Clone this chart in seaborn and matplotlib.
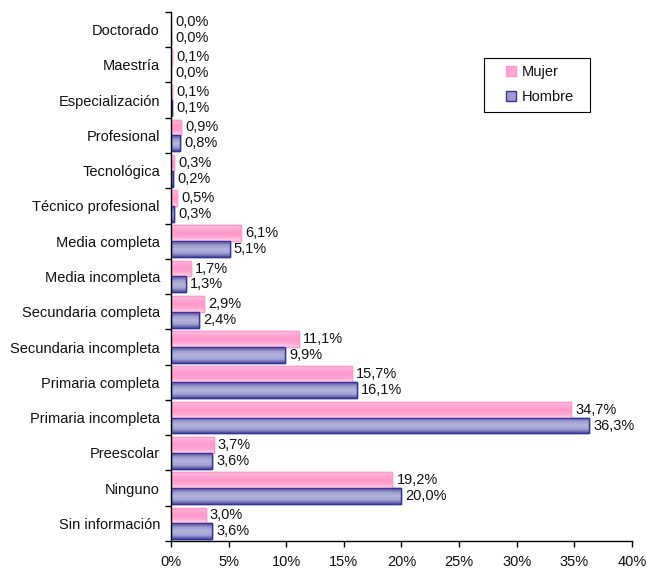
#!/usr/bin/env python3
"""Distribución por nivel educativo y sexo (barras horizontales)."""

import matplotlib
matplotlib.use("Agg")
import matplotlib.pyplot as plt
import numpy as np
import pandas as pd
import seaborn as sns
from matplotlib.colors import LinearSegmentedColormap
from matplotlib.patches import Rectangle
from matplotlib.ticker import FixedLocator, FuncFormatter

niveles = [
    "Doctorado", "Maestría", "Especialización", "Profesional", "Tecnológica",
    "Técnico profesional", "Media completa", "Media incompleta",
    "Secundaria completa", "Secundaria incompleta", "Primaria completa",
    "Primaria incompleta", "Preescolar", "Ninguno", "Sin información",
]
mujer = [0.0, 0.1, 0.1, 0.9, 0.3, 0.5, 6.1, 1.7, 2.9, 11.1, 15.7, 34.7, 3.7, 19.2, 3.0]
hombre = [0.0, 0.0, 0.1, 0.8, 0.2, 0.3, 5.1, 1.3, 2.4, 9.9, 16.1, 36.3, 3.6, 20.0, 3.6]
series = ["Mujer", "Hombre"]
x_ticks = [0, 5, 10, 15, 20, 25, 30, 35, 40]

df = pd.DataFrame({
    "nivel": niveles * 2,
    "pct": mujer + hombre,
    "sexo": ["Mujer"] * len(niveles) + ["Hombre"] * len(niveles),
})

sns.set_theme(style="white")
plt.rcParams["font.family"] = ["Liberation Sans", "DejaVu Sans"]
plt.rcParams["text.color"] = "#111111"
FS = 10.5

fig = plt.figure(figsize=(6.46, 5.68), dpi=100)
ax = fig.add_axes([0.2647, 0.0475, 0.7136, 0.9315])

colores = {"Mujer": "#FFA8D4", "Hombre": "#9C9CCF"}
bordes = {"Mujer": "#FF99CC", "Hombre": "#333399"}
# degradado vertical (arriba -> abajo) parecido al de Excel
degradados = {
    "Mujer": LinearSegmentedColormap.from_list(
        "m", ["#FFD2E8", "#FFA6D2", "#FF99CC", "#FFA6D2", "#FFC4E2"]),
    "Hombre": LinearSegmentedColormap.from_list(
        "h", ["#5050A0", "#A4A4D4", "#B4B4DC", "#9C9CCC", "#44449A"]),
}

sns.barplot(
    data=df, y="nivel", x="pct", hue="sexo", hue_order=series,
    order=niveles, palette=colores, width=0.9, orient="h", ax=ax,
    saturation=1, legend=True,
)

grad = np.linspace(0, 1, 64).reshape(-1, 1)
for cont, nombre in zip(ax.containers, series):
    for bar in cont:
        bar.set_edgecolor(bordes[nombre])
        bar.set_linewidth(1.0)
        x0, y0 = bar.get_x(), bar.get_y()
        w, h = bar.get_width(), bar.get_height()
        if w <= 0:
            continue
        img = ax.imshow(grad, cmap=degradados[nombre], aspect="auto",
                        extent=(x0, x0 + w, y0, y0 + h), origin="upper",
                        zorder=bar.get_zorder() + 0.1, interpolation="bilinear")
        img.set_clip_path(bar)
        # borde encima del degradado
        ax.add_patch(Rectangle((x0, y0), w, h, facecolor="none",
                               edgecolor=bordes[nombre], linewidth=1.0,
                               zorder=bar.get_zorder() + 0.2))
    ax.bar_label(
        cont,
        labels=[f"{v:.1f}%".replace(".", ",") for v in cont.datavalues],
        padding=3, fontsize=FS, color="#111111",
    )

ax.set_xlim(0, 40)
ax.set_ylim(len(niveles) - 0.5, -0.5)
ax.set_xticks(x_ticks)
ax.xaxis.set_major_formatter(FuncFormatter(lambda v, _: f"{v:.0f}%"))
ax.set_xlabel("")
ax.set_ylabel("")

# ticks del eje y en los límites entre categorías
ax.yaxis.set_minor_locator(FixedLocator(np.arange(-0.5, len(niveles), 1.0)))
ax.tick_params(axis="y", which="major", length=0, labelsize=FS, pad=8, colors="#111111")
ax.tick_params(axis="y", which="minor", length=4, width=1, color="black", left=True)
ax.tick_params(axis="x", which="major", length=4, width=1, bottom=True,
               labelsize=FS, pad=6, labelcolor="#111111", color="black")

for s in ["top", "right"]:
    ax.spines[s].set_visible(False)
for s in ["left", "bottom"]:
    ax.spines[s].set_color("black")
    ax.spines[s].set_linewidth(1.0)
    ax.spines[s].set_zorder(10)

# leyenda sin marco propio; el marco se dibuja aparte
leg = ax.legend(
    loc="upper left", bbox_to_anchor=(0.727, 0.900), frameon=False,
    fontsize=FS, handlelength=0.65, handleheight=0.65, labelspacing=0.75,
    handletextpad=0.4, borderpad=0, borderaxespad=0,
)
for h, nombre in zip(leg.legend_handles, series):
    h.set_edgecolor(bordes[nombre])
ax.add_patch(Rectangle((0.679, 0.811), 0.230, 0.102, transform=ax.transAxes,
                       facecolor="none", edgecolor="black", linewidth=0.8,
                       clip_on=False, zorder=5))

fig.savefig("out.png", dpi=100)
